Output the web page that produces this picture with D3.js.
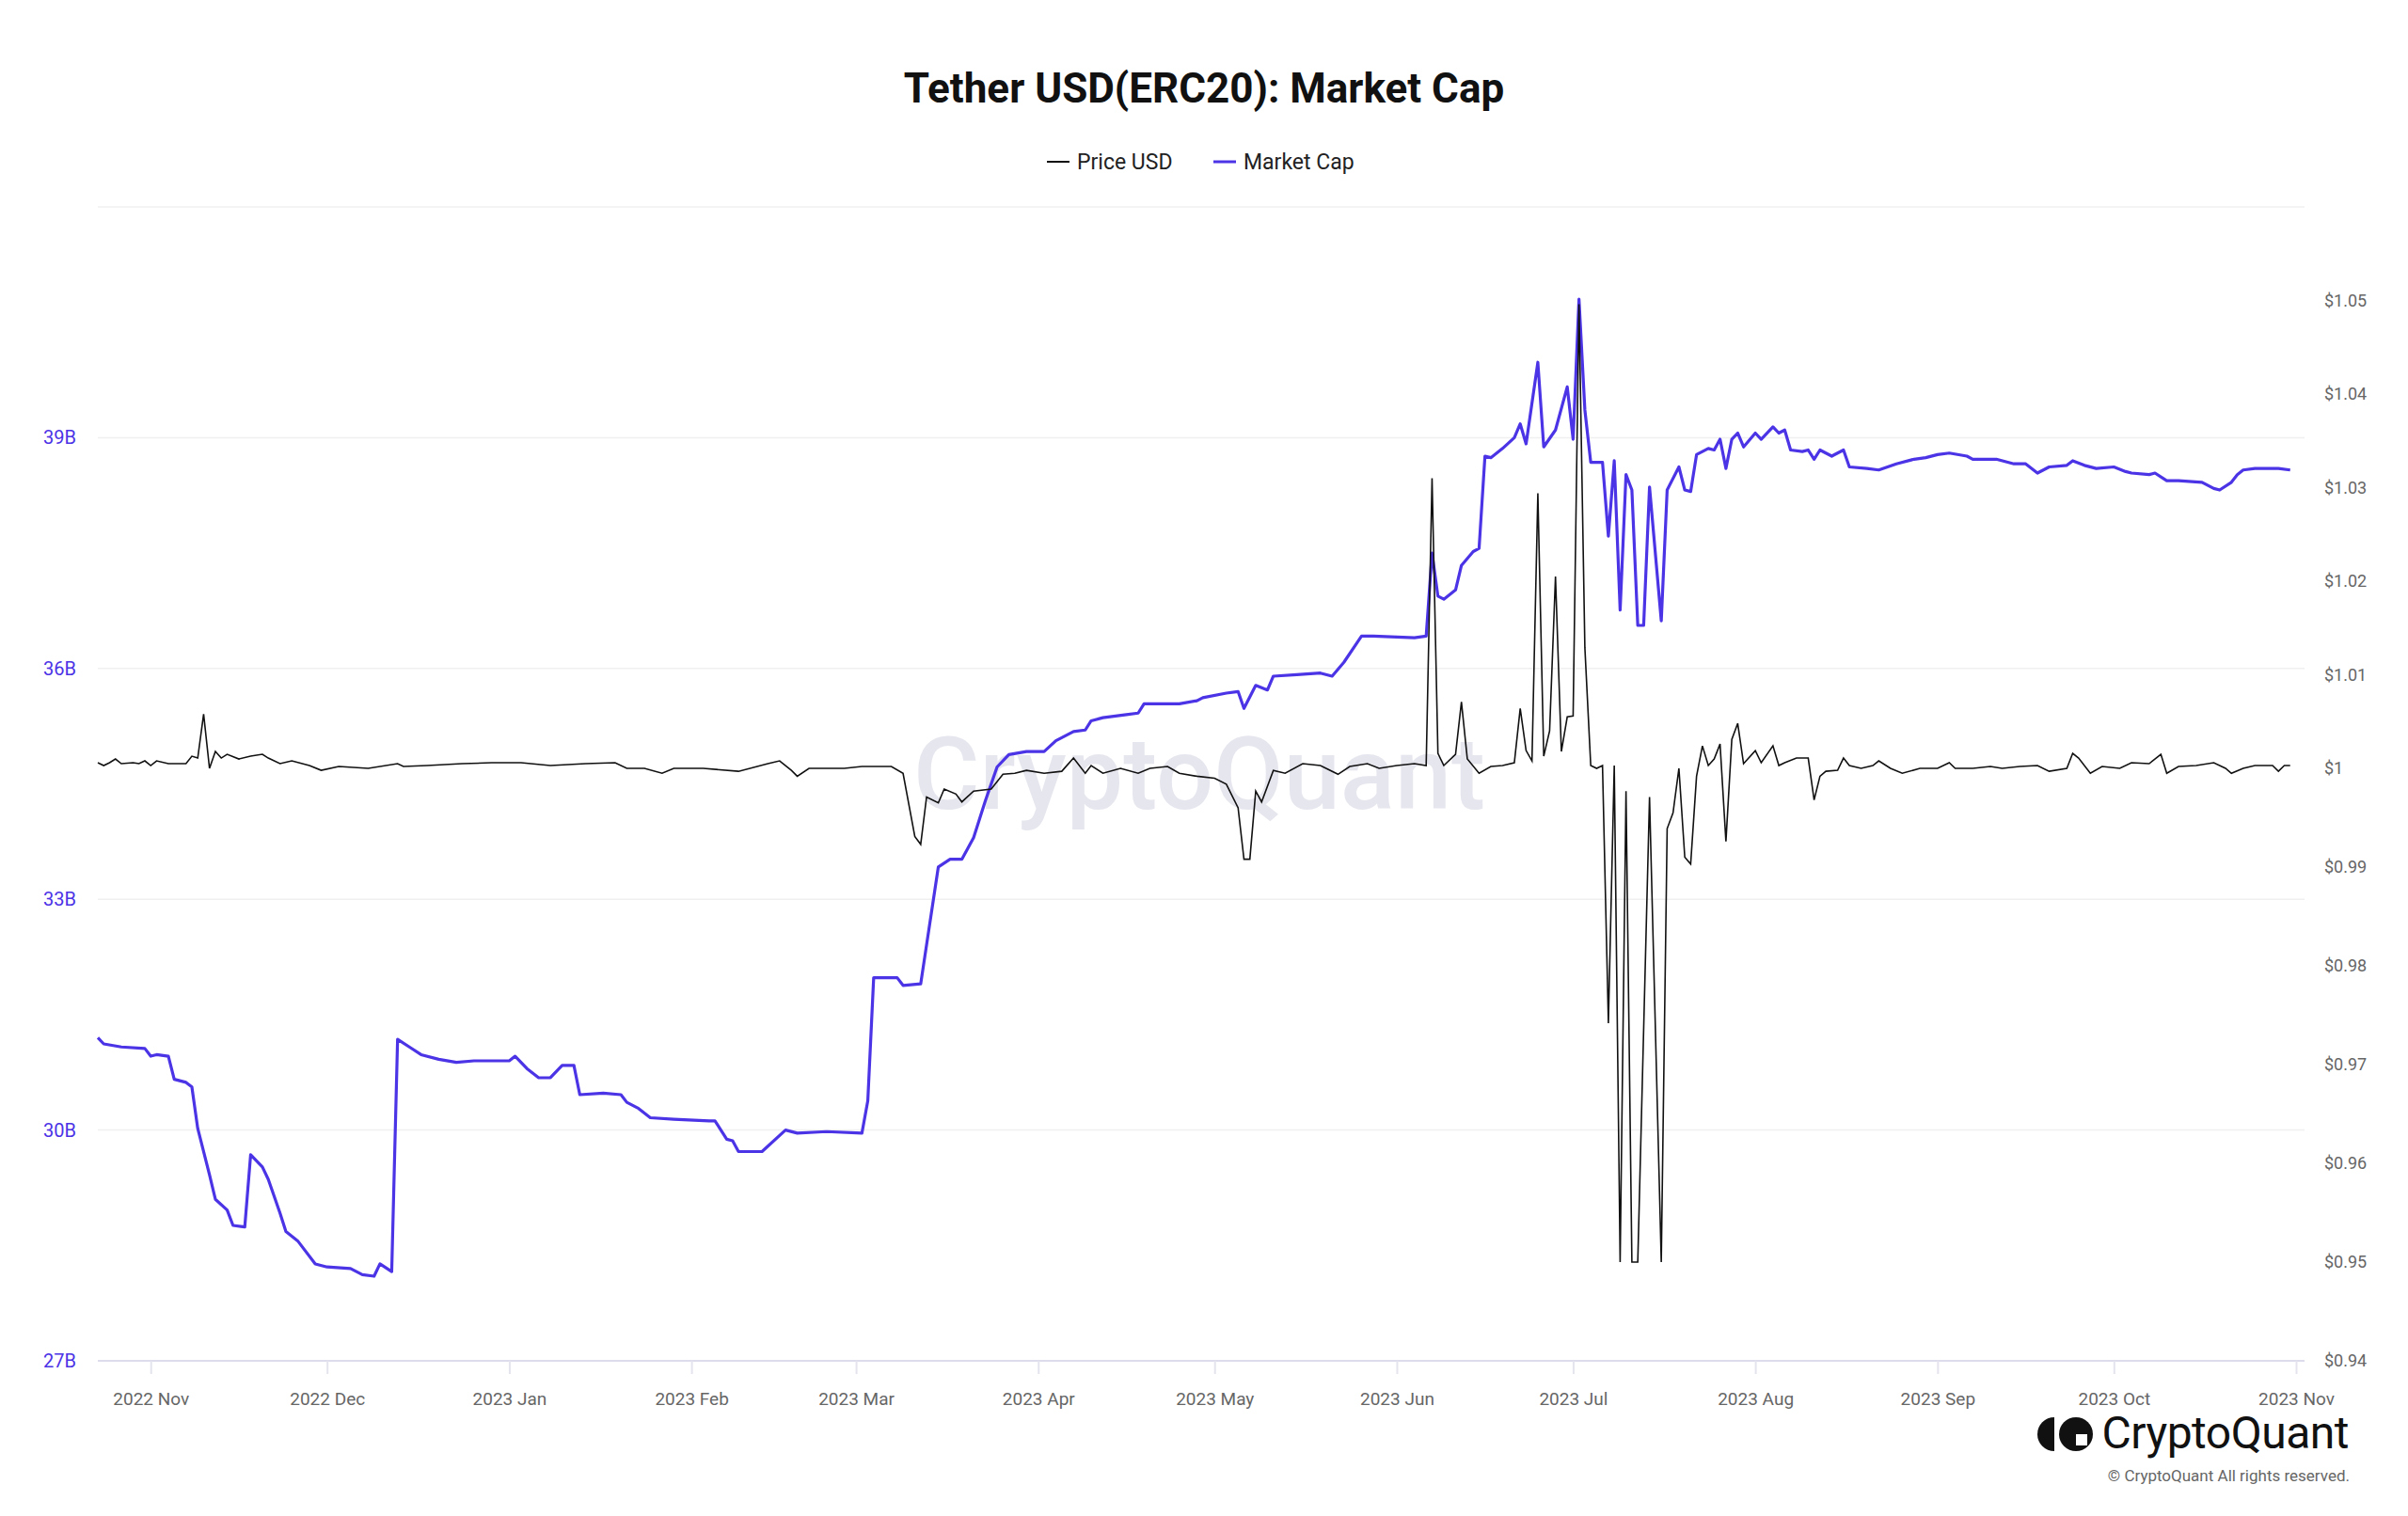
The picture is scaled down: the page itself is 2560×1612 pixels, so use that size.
<!DOCTYPE html>
<html><head><meta charset="utf-8">
<script src="https://cdn.jsdelivr.net/npm/d3@7"></script>
<style>body{margin:0;background:#fff;}svg{display:block;font-family:Roboto,"Noto Sans",sans-serif;}</style>
</head><body><svg id="c" width="2560" height="1612"></svg>
<script>
const startDate = "2022-10-23";
const endDate = "2023-11-01";
const capDays = [0,1,4,8,9,10,12,13,15,16,17,19,20,22,23,25,26,28,29,31,32,34,37,39,43,45,47,48,50,51,53,55,58,61,64,70,71,73,75,77,79,81,82,86,89,90,92,94,98,104,105,107,108,109,113,117,119,124,130,131,132,136,137,140,143,145,147,149,151,153,155,158,161,163,166,168,169,171,175,177,178,184,187,188,192,194,195,197,199,200,204,208,210,212,215,217,224,226,227,228,229,231,232,234,235,236,237,239,241,242,243,245,246,248,250,251,252,253,254,256,257,258,259,260,261,262,263,264,266,267,269,270,271,272,274,275,276,277,278,279,280,282,283,285,286,287,288,290,291,292,293,295,297,298,301,303,306,309,311,313,315,318,319,323,326,328,330,332,335,336,338,340,343,345,346,349,350,352,354,358,360,361,363,364,365,367,371,373];
const capValues = [31.20,31.12,31.08,31.06,30.96,30.98,30.96,30.66,30.62,30.56,30.02,29.42,29.10,28.96,28.76,28.74,29.68,29.52,29.36,28.92,28.68,28.56,28.26,28.22,28.20,28.12,28.10,28.26,28.16,31.18,31.08,30.98,30.92,30.88,30.90,30.90,30.96,30.80,30.68,30.68,30.84,30.84,30.46,30.48,30.46,30.36,30.28,30.16,30.14,30.12,30.12,29.88,29.86,29.72,29.72,30.00,29.96,29.98,29.96,30.38,31.98,31.98,31.88,31.90,33.42,33.52,33.52,33.80,34.28,34.72,34.88,34.92,34.92,35.06,35.18,35.20,35.32,35.36,35.40,35.42,35.54,35.54,35.58,35.62,35.68,35.70,35.48,35.78,35.72,35.90,35.92,35.94,35.90,36.08,36.42,36.42,36.40,36.42,37.50,36.94,36.90,37.02,37.34,37.52,37.56,38.76,38.74,38.86,39.00,39.18,38.92,39.98,38.88,39.10,39.66,38.98,40.80,39.36,38.68,38.68,37.72,38.70,36.76,38.52,38.32,36.56,36.56,38.36,36.62,38.32,38.62,38.32,38.30,38.78,38.86,38.84,38.98,38.60,38.98,39.06,38.88,39.06,38.98,39.14,39.06,39.10,38.84,38.82,38.84,38.72,38.84,38.76,38.84,38.62,38.60,38.58,38.66,38.72,38.74,38.78,38.80,38.76,38.72,38.72,38.66,38.66,38.54,38.62,38.64,38.70,38.64,38.60,38.62,38.56,38.54,38.52,38.54,38.44,38.44,38.42,38.34,38.32,38.42,38.52,38.58,38.60,38.60,38.58];
const priceDays = [0,1,2,3,4,6,7,8,9,10,12,15,16,17,18,19,20,21,22,24,26,28,29,31,33,36,38,41,46,51,52,56,62,67,72,77,83,88,90,93,96,98,103,109,114,116,118,119,121,127,130,135,137,139,140,141,143,144,146,147,149,152,154,156,158,161,164,166,168,169,171,174,177,179,182,184,187,190,192,194,195,196,197,198,200,202,205,208,211,213,216,218,221,224,226,227,228,229,231,232,233,235,237,239,241,242,243,244,245,246,247,248,249,250,251,252,253,254,255,256,257,258,259,260,261,262,264,266,267,268,269,270,271,272,273,274,275,276,277,278,279,280,282,283,285,286,287,289,291,292,293,294,296,297,298,300,302,303,305,307,310,313,315,316,319,322,324,327,330,332,335,336,337,339,341,344,346,349,351,352,354,357,360,362,363,365,367,370,371,372,373];
const priceValues = [1.0006,1.0003,1.0006,1.0010,1.0005,1.0006,1.0005,1.0008,1.0003,1.0008,1.0005,1.0005,1.0013,1.0011,1.0058,1.0000,1.0018,1.0011,1.0015,1.0010,1.0013,1.0015,1.0011,1.0005,1.0008,1.0003,0.9998,1.0002,1.0000,1.0005,1.0002,1.0003,1.0005,1.0006,1.0006,1.0003,1.0005,1.0006,1.0000,1.0000,0.9995,1.0000,1.0000,0.9997,1.0005,1.0008,0.9998,0.9992,1.0000,1.0000,1.0002,1.0002,0.9995,0.9931,0.9923,0.9971,0.9965,0.9979,0.9974,0.9966,0.9977,0.9979,0.9994,0.9995,0.9998,0.9995,0.9997,1.0011,0.9995,1.0003,0.9995,1.0000,0.9995,1.0000,1.0002,0.9995,0.9992,0.9990,0.9984,0.9960,0.9908,0.9908,0.9977,0.9966,0.9998,0.9995,1.0005,1.0003,0.9994,1.0002,1.0005,1.0000,1.0003,1.0005,1.0003,1.0310,1.0016,1.0003,1.0015,1.0071,1.0010,0.9995,1.0002,1.0003,1.0006,1.0064,1.0019,1.0008,1.0294,1.0013,1.0040,1.0205,1.0018,1.0055,1.0056,1.0496,1.0129,1.0003,1.0000,1.0003,0.9742,1.0003,0.9500,0.9977,0.9500,0.9500,0.9971,0.9500,0.9939,0.9955,1.0000,0.9910,0.9903,0.9992,1.0024,1.0003,1.0010,1.0026,0.9926,1.0031,1.0048,1.0005,1.0019,1.0006,1.0024,1.0003,1.0006,1.0011,1.0011,0.9968,0.9992,0.9997,0.9998,1.0011,1.0003,1.0000,1.0003,1.0008,1.0000,0.9995,1.0000,1.0000,1.0006,1.0000,1.0000,1.0002,1.0000,1.0002,1.0003,0.9997,1.0000,1.0016,1.0011,0.9995,1.0002,1.0000,1.0006,1.0005,1.0015,0.9995,1.0002,1.0003,1.0006,1.0000,0.9995,1.0000,1.0003,1.0003,0.9997,1.0003,1.0003];
const capTicks = [27,30,33,36,39,42];
const priceTicks = [0.94,0.95,0.96,0.97,0.98,0.99,1.00,1.01,1.02,1.03,1.04,1.05];
const monthTicks = ["2022-11-01","2022-12-01","2023-01-01","2023-02-01","2023-03-01","2023-04-01","2023-05-01","2023-06-01","2023-07-01","2023-08-01","2023-09-01","2023-10-01","2023-11-01"];
const monthLabels = ["2022 Nov","2022 Dec","2023 Jan","2023 Feb","2023 Mar","2023 Apr","2023 May","2023 Jun","2023 Jul","2023 Aug","2023 Sep","2023 Oct","2023 Nov"];

const P = d3.timeParse("%Y-%m-%d");
const s0 = P(startDate);
const cap = capDays.map((d,i)=>({t:d3.timeDay.offset(s0,d), v:capValues[i]}));
const price = priceDays.map((d,i)=>({t:d3.timeDay.offset(s0,d), v:priceValues[i]}));

const L=104,R=2441,T=220,B=1447;
const x = d3.scaleTime().domain([s0,P(endDate)]).range([L,R]);
const yL = d3.scaleLinear().domain([27,42]).range([B,T]);
const yR = d3.scaleLinear().domain([0.94,1.00,1.06]).range([B,817,220]);
const svg = d3.select("#c");
const purple="#4b33e6";

svg.append("g").selectAll("line").data(capTicks).join("line")
 .attr("x1",L).attr("x2",2450).attr("y1",d=>yL(d)).attr("y2",d=>yL(d))
 .attr("stroke",d=>d===27?"#dcdcec":"#f0f0f0").attr("stroke-width",d=>d===27?2:1.5);

svg.append("text").attr("x",1275).attr("y",860).attr("text-anchor","middle")
 .attr("font-size",108).attr("font-weight",500).attr("fill","#e6e6ef").text("CryptoQuant");

const gl = svg.append("g").attr("transform","translate(84,0)")
 .call(d3.axisLeft(yL).tickValues(capTicks.filter(d=>d<42)).tickSize(0).tickFormat(d=>d+"B"));
gl.select(".domain").remove();
gl.selectAll("text").attr("fill",purple).attr("font-size",20).attr("font-family","Roboto");

const gr = svg.append("g").attr("transform","translate(2468,0)")
 .call(d3.axisRight(yR).tickValues(priceTicks).tickSize(0).tickFormat(d=>"$"+d3.format("")(+d.toFixed(2))));
gr.select(".domain").remove();
gr.selectAll("text").attr("fill","#666").attr("font-size",18).attr("font-family","Roboto");

const gb = svg.append("g").attr("transform",`translate(0,${B})`)
 .call(d3.axisBottom(x).tickValues(monthTicks.map(P)).tickSize(14).tickPadding(20).tickFormat((d,i)=>monthLabels[i]));
gb.select(".domain").remove();
gb.selectAll("line").attr("stroke","#e4e4ee").attr("stroke-width",2);
gb.selectAll("text").attr("fill","#666").attr("font-size",19).attr("font-family","Roboto");

svg.append("path").datum(cap).attr("fill","none").attr("stroke",purple).attr("stroke-width",3.2)
 .attr("stroke-linejoin","round")
 .attr("d",d3.line().x(d=>x(d.t)).y(d=>yL(d.v)));
svg.append("path").datum(price).attr("fill","none").attr("stroke","#111").attr("stroke-width",1.6)
 .attr("d",d3.line().x(d=>x(d.t)).y(d=>yR(d.v)));

svg.append("text").attr("x",1280).attr("y",109).attr("text-anchor","middle")
 .attr("font-size",44).attr("font-weight",700).attr("fill","#111").text("Tether USD(ERC20): Market Cap");

const lg = svg.append("g");
lg.append("line").attr("x1",1113).attr("x2",1137).attr("y1",172).attr("y2",172).attr("stroke","#111").attr("stroke-width",2);
lg.append("text").attr("x",1145).attr("y",180).attr("font-size",23).attr("fill","#222").text("Price USD");
lg.append("line").attr("x1",1290).attr("x2",1314).attr("y1",172).attr("y2",172).attr("stroke",purple).attr("stroke-width",3);
lg.append("text").attr("x",1322).attr("y",180).attr("font-size",23).attr("fill","#222").text("Market Cap");

const lo = svg.append("g");
lo.append("path").attr("d","M2184,1507 A18,18 0 0 0 2184,1543 Z").attr("fill","#111");
lo.append("circle").attr("cx",2207).attr("cy",1525).attr("r",18).attr("fill","#111");
lo.append("rect").attr("x",2207).attr("y",1525).attr("width",12).attr("height",12).attr("fill","#fff");
lo.append("text").attr("x",2497).attr("y",1540).attr("text-anchor","end").attr("font-size",48)
 .attr("font-weight",400).attr("fill","#111").attr("letter-spacing",-0.5).text("CryptoQuant");
svg.append("text").attr("x",2498).attr("y",1575).attr("text-anchor","end").attr("font-size",17)
 .attr("fill","#666").text("© CryptoQuant All rights reserved.");
</script></body></html>
